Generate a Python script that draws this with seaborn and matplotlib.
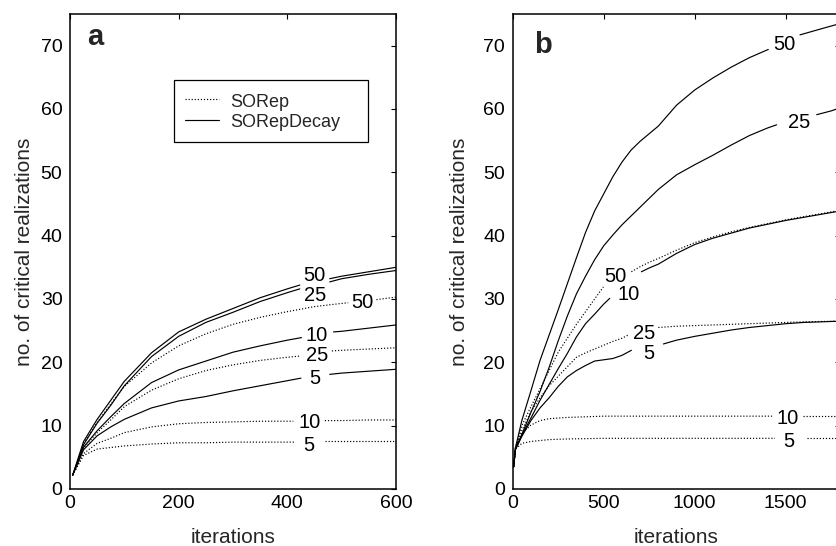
import matplotlib
matplotlib.use("Agg")
import matplotlib.pyplot as plt
from matplotlib.lines import Line2D
from matplotlib.transforms import offset_copy
import pandas as pd
import seaborn as sns

# ---------------- panel a: 600 iterations ----------------
a_iter_decay50 = [5, 25, 50, 75, 100, 150, 200, 250, 300, 350, 400, 423, 478, 500, 550, 600]
a_decay50 = [2.2, 7.5, 11.0, 14.0, 17.0, 21.5, 24.8, 26.8, 28.5, 30.2, 31.6, 32.2, 33.2, 33.6, 34.3, 35.0]

a_iter_decay25 = [5, 25, 50, 75, 100, 150, 200, 250, 300, 350, 400, 423, 478, 500, 550, 600]
a_decay25 = [2.2, 7.0, 10.4, 13.2, 16.3, 20.9, 24.1, 26.3, 27.9, 29.6, 31.0, 31.6, 32.7, 33.2, 33.9, 34.5]

a_iter_decay10 = [5, 25, 50, 75, 100, 150, 200, 250, 300, 350, 400, 426, 485, 500, 550, 600]
a_decay10 = [2.2, 6.6, 9.2, 11.4, 13.5, 16.8, 18.8, 20.2, 21.6, 22.6, 23.5, 23.9, 24.8, 24.9, 25.4, 25.9]

a_iter_decay5 = [5, 25, 50, 75, 100, 150, 200, 250, 300, 350, 400, 425, 478, 500, 550, 600]
a_decay5 = [2.2, 6.2, 8.4, 9.8, 11.0, 12.8, 13.9, 14.6, 15.5, 16.3, 17.1, 17.5, 18.1, 18.3, 18.6, 18.9]

a_iter_rep50 = [5, 25, 50, 75, 100, 150, 200, 250, 300, 350, 400, 450, 500, 512, 564, 600]
a_rep50 = [2.2, 7.2, 10.5, 13.4, 16.2, 19.9, 22.6, 24.5, 26.0, 27.1, 28.0, 28.8, 29.3, 29.4, 29.9, 30.3]

a_iter_rep25 = [5, 25, 50, 75, 100, 150, 200, 250, 300, 350, 400, 425, 482, 500, 550, 600]
a_rep25 = [2.2, 6.5, 8.9, 10.9, 13.0, 15.6, 17.4, 18.7, 19.6, 20.3, 20.8, 21.0, 21.8, 21.9, 22.1, 22.3]

a_iter_rep10 = [5, 25, 50, 75, 100, 150, 200, 250, 300, 350, 411, 469, 500, 550, 600]
a_rep10 = [2.2, 5.6, 7.2, 8.0, 8.9, 9.8, 10.3, 10.5, 10.6, 10.7, 10.7, 10.8, 10.8, 10.9, 10.9]

a_iter_rep5 = [5, 25, 50, 100, 150, 200, 250, 300, 350, 414, 469, 500, 550, 600]
a_rep5 = [2.2, 5.3, 6.3, 6.8, 7.1, 7.3, 7.3, 7.4, 7.4, 7.4, 7.5, 7.5, 7.5, 7.5]

# ---------------- panel b: 1800 iterations ----------------
b_iter_decay50 = [5, 15, 50, 100, 150, 200, 250, 300, 350, 400, 450, 500, 550, 600, 650, 700,
                  750, 800, 900, 1000, 1100, 1200, 1300, 1404, 1578, 1700, 1800]
b_decay50 = [3.5, 6.5, 10.8, 15.5, 20.3, 24.3, 28.3, 32.4, 36.5, 40.5, 43.9, 46.6, 49.3, 51.6, 53.5, 54.9,
             56.1, 57.3, 60.6, 63.0, 64.9, 66.6, 68.1, 69.4, 71.7, 72.7, 73.5]

b_iter_decay25 = [5, 15, 50, 100, 150, 200, 250, 300, 350, 400, 450, 500, 550, 600, 650, 700,
                  750, 800, 900, 1000, 1100, 1200, 1300, 1400, 1450, 1670, 1750, 1800]
b_decay25 = [3.5, 6.4, 8.6, 12.1, 15.4, 19.2, 23.4, 27.3, 30.8, 33.6, 36.2, 38.4, 40.1, 41.7, 43.1, 44.5,
             45.9, 47.3, 49.6, 51.2, 52.7, 54.3, 55.8, 57.0, 57.5, 59.1, 59.7, 60.2]

b_iter_decay10 = [5, 15, 50, 100, 150, 200, 250, 300, 350, 400, 450, 500, 533, 707, 750, 800,
                  900, 1000, 1100, 1200, 1300, 1400, 1500, 1600, 1700, 1800]
b_decay10 = [3.5, 6.3, 8.5, 11.2, 14.0, 16.5, 19.0, 21.4, 24.0, 26.1, 27.6, 29.2, 30.1, 34.3, 34.9, 35.5,
             37.2, 38.6, 39.6, 40.4, 41.2, 41.8, 42.4, 42.9, 43.4, 43.9]

b_iter_decay5 = [5, 15, 50, 100, 150, 200, 250, 300, 350, 400, 450, 500, 550, 600, 652, 828,
                 900, 1000, 1100, 1200, 1300, 1400, 1500, 1600, 1700, 1800]
b_decay5 = [3.5, 6.2, 8.3, 10.8, 12.8, 14.4, 16.2, 17.7, 18.7, 19.5, 20.2, 20.4, 20.6, 21.1, 21.9, 22.9,
            23.5, 24.1, 24.6, 25.1, 25.5, 25.8, 26.1, 26.3, 26.4, 26.5]

b_iter_rep50 = [5, 15, 50, 100, 150, 200, 250, 300, 350, 400, 450, 498, 652, 700, 750, 800,
                900, 1000, 1100, 1200, 1300, 1400, 1500, 1600, 1700, 1800]
b_rep50 = [3.5, 6.5, 10.0, 13.0, 15.8, 18.7, 21.6, 23.8, 26.0, 28.0, 30.0, 31.9, 34.3, 35.1, 35.8, 36.4,
           37.7, 38.9, 39.8, 40.6, 41.3, 41.9, 42.5, 43.0, 43.5, 44.0]

b_iter_rep25 = [5, 15, 50, 100, 150, 200, 250, 300, 350, 400, 450, 500, 550, 600, 634, 800,
                900, 1000, 1200, 1400, 1600, 1800]
b_rep25 = [3.5, 6.4, 9.2, 12.2, 14.4, 16.3, 17.8, 19.3, 20.8, 21.5, 22.1, 22.7, 23.3, 23.8, 24.3, 25.5,
           25.7, 25.8, 26.0, 26.2, 26.4, 26.5]

b_iter_rep10 = [5, 15, 50, 100, 150, 200, 300, 400, 500, 700, 1000, 1200, 1432, 1597, 1700, 1800]
b_rep10 = [3.5, 6.5, 8.8, 10.1, 10.8, 11.1, 11.3, 11.4, 11.5, 11.5, 11.5, 11.5, 11.5, 11.5, 11.5, 11.5]

b_iter_rep5 = [5, 15, 50, 100, 200, 300, 500, 800, 1100, 1441, 1615, 1800]
b_rep5 = [3.5, 6.3, 7.2, 7.5, 7.8, 7.9, 8.0, 8.0, 8.0, 8.0, 8.0, 8.0]

methods = ["SORep", "SORepDecay"]
y_ticks = [0, 10, 20, 30, 40, 50, 60, 70]
a_x_ticks = [0, 200, 400, 600]
b_x_ticks = [0, 500, 1000, 1500]

curves_a = {
    ("SORepDecay", "50"): (a_iter_decay50, a_decay50),
    ("SORepDecay", "25"): (a_iter_decay25, a_decay25),
    ("SORepDecay", "10"): (a_iter_decay10, a_decay10),
    ("SORepDecay", "5"): (a_iter_decay5, a_decay5),
    ("SORep", "50"): (a_iter_rep50, a_rep50),
    ("SORep", "25"): (a_iter_rep25, a_rep25),
    ("SORep", "10"): (a_iter_rep10, a_rep10),
    ("SORep", "5"): (a_iter_rep5, a_rep5),
}
curves_b = {
    ("SORepDecay", "50"): (b_iter_decay50, b_decay50),
    ("SORepDecay", "25"): (b_iter_decay25, b_decay25),
    ("SORepDecay", "10"): (b_iter_decay10, b_decay10),
    ("SORepDecay", "5"): (b_iter_decay5, b_decay5),
    ("SORep", "50"): (b_iter_rep50, b_rep50),
    ("SORep", "25"): (b_iter_rep25, b_rep25),
    ("SORep", "10"): (b_iter_rep10, b_rep10),
    ("SORep", "5"): (b_iter_rep5, b_rep5),
}

# inline contour-style labels: (label x, label y, line break start, line break end)
labels_a = {
    ("SORepDecay", "50"): (449, 34.0, 423, 478),
    ("SORepDecay", "25"): (452, 30.9, 423, 478),
    ("SORep", "50"): (539, 29.7, 512, 564),
    ("SORepDecay", "10"): (454, 24.5, 426, 485),
    ("SORep", "25"): (454, 21.3, 425, 482),
    ("SORepDecay", "5"): (451, 17.7, 425, 478),
    ("SORep", "10"): (441, 10.8, 411, 469),
    ("SORep", "5"): (439, 7.1, 414, 469),
}
labels_b = {
    ("SORepDecay", "50"): (1491, 70.4, 1404, 1578),
    ("SORepDecay", "25"): (1573, 58.2, 1450, 1670),
    ("SORep", "50"): (564, 33.9, 498, 652),
    ("SORepDecay", "10"): (637, 31.05, 533, 707),
    ("SORep", "25"): (720, 24.8, 634, 800),
    ("SORepDecay", "5"): (749, 21.7, 652, 828),
    ("SORep", "10"): (1510, 11.45, 1432, 1597),
    ("SORep", "5"): (1515, 7.75, 1441, 1615),
}


def long_table(curves, labels):
    rows = []
    for (method, m), (xs, ys) in curves.items():
        lo, hi = labels[(method, m)][2:]
        for x, y in zip(xs, ys):
            if lo < x < hi:
                continue
            part = 0 if x <= lo else 1
            rows.append((x, y, method, f"{method}-{m}-{part}"))
    return pd.DataFrame(rows, columns=["iterations", "critical", "method", "segment"])


sns.set_theme(style="white")
plt.rcParams["font.family"] = ["Liberation Sans", "DejaVu Sans"]
plt.rcParams["axes.linewidth"] = 1.1
plt.rcParams["axes.edgecolor"] = "black"

fig = plt.figure(figsize=(8.36, 5.46), dpi=100)
fig.patch.set_facecolor("white")
ax_a = fig.add_axes([0.0837, 0.1044, 0.3900, 0.8700])
ax_b = fig.add_axes([0.6133, 0.1044, 0.3919, 0.8700])

line_dashes = {"SORep": (1, 1.6), "SORepDecay": ""}
LW = 0.85

panels = [
    (ax_a, curves_a, labels_a, (0, 600), a_x_ticks, "a", (0.053, 0.934), 4.5),
    (ax_b, curves_b, labels_b, (0, 1800), b_x_ticks, "b", (0.066, 0.9185), 10.0),
]

for ax, curves, labels, xlim, xticks, letter, letter_pos, ylabpad in panels:
    df = long_table(curves, labels)
    sns.lineplot(data=df, x="iterations", y="critical", style="method", units="segment",
                 estimator=None, sort=False, color="black", dashes=line_dashes,
                 linewidth=LW, legend=False, ax=ax)
    ax.set_xlim(*xlim)
    ax.set_ylim(0, 75)
    ax.set_xticks(xticks)
    ax.set_yticks(y_ticks)
    ax.tick_params(direction="in", length=3.6, width=0.8, top=True, right=True,
                   labelsize=14, colors="black")
    ax.tick_params(axis="y", pad=5.4)
    ax.tick_params(axis="x", pad=4.3)
    ax.set_xlabel("iterations", fontsize=15, labelpad=11.5)
    ax.set_ylabel("no. of critical realizations", fontsize=15, labelpad=ylabpad)
    for s in ax.spines.values():
        s.set_visible(True)
        s.set_color("black")
        s.set_linewidth(1.1)

    # inline labels, centred on the digits
    shifted = offset_copy(ax.transData, fig=fig, y=-5.2, units="points")
    for key, (lx, ly, _, _) in labels.items():
        ax.text(lx, ly, key[1], ha="center", va="baseline", fontsize=14.5,
                transform=shifted, color="black", zorder=5)

    ax.text(*letter_pos, letter, transform=ax.transAxes, fontsize=21,
            fontweight="bold", ha="left", va="baseline")

handles = [
    Line2D([0], [0], color="black", lw=LW, dashes=(1, 1.6)),
    Line2D([0], [0], color="black", lw=LW),
]
leg = ax_a.legend(handles, methods, loc="upper left",
                  bbox_to_anchor=(0.320, 0.712, 0.595, 0.148), mode="expand",
                  borderaxespad=0, fontsize=13, handlelength=1.9, handleheight=1.25,
                  handletextpad=0.62, labelspacing=0.05, borderpad=0.6,
                  frameon=True, fancybox=False, shadow=False, framealpha=1)
leg.get_frame().set_edgecolor("black")
leg.get_frame().set_linewidth(0.9)

fig.savefig("out.png", dpi=100)
